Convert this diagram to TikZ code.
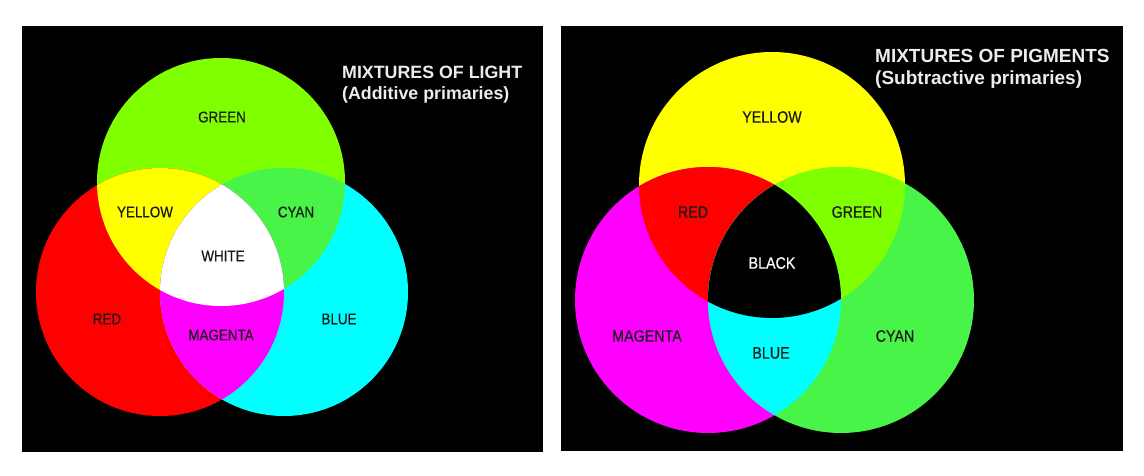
\documentclass[tikz,border=0pt]{standalone}
\usepackage{fontspec}
\setmainfont{Liberation Sans}
\newfontfamily\labfont[FakeStretch=0.865,FakeBold=0.4]{Liberation Sans}
\definecolor{cGreen}{RGB}{128,255,0}
\definecolor{cYellow}{RGB}{255,255,0}
\definecolor{cLime}{RGB}{72,244,72}
\definecolor{cRed}{RGB}{255,0,0}
\definecolor{cMagenta}{RGB}{255,0,255}
\definecolor{cCyan}{RGB}{0,255,255}
\definecolor{labcol}{RGB}{25,25,25}
\definecolor{titlecol}{RGB}{236,236,236}
\tikzset{
  labL/.style={inner sep=0pt, text=labcol, font=\labfont\fontsize{15.5}{18}\selectfont},
  labR/.style={inner sep=0pt, text=labcol, font=\labfont\fontsize{16.5}{19}\selectfont},
  titleL/.style={anchor=base west, inner sep=0pt, text=titlecol, font=\bfseries\fontsize{17.8}{21}\selectfont},
  titleR/.style={anchor=base west, inner sep=0pt, text=titlecol, font=\bfseries\fontsize{19}{22}\selectfont},
  panel/.style={fill=black}
}
\begin{document}
\begin{tikzpicture}[x=1pt,y=-1pt]
\useasboundingbox (0,0) rectangle (1144,476);
\fill[white] (0,0) rectangle (1144,476);
\fill[panel] (22,26) rectangle (543,452);
\fill[panel] (561,26) rectangle (1123,451);

% ---------- Left: mixtures of light ----------
\def\CG{(221,182) circle [radius=124pt]}
\def\CR{(160,292) circle [radius=124pt]}
\def\CB{(284,292) circle [radius=124pt]}
\fill[cGreen] \CG;
\fill[cRed] \CR;
\fill[cCyan] \CB;
\begin{scope}\clip \CR; \fill[cYellow] \CG; \end{scope}
\begin{scope}\clip \CG; \fill[cLime] \CB; \end{scope}
\begin{scope}\clip \CR; \fill[cMagenta] \CB; \end{scope}
\begin{scope}\clip \CR; \clip \CG; \fill[white] \CB; \end{scope}

\node[labL] (lgreen) at (222,117) {GREEN};
\node[labL] (lyellow) at (145,212) {YELLOW};
\node[labL] (lcyan) at (296,212) {CYAN};
\node[labL] (lwhite) at (223,256) {WHITE};
\node[labL] (lred) at (107,319) {RED};
\node[labL] (lmagenta) at (221,335) {MAGENTA};
\node[labL] (lblue) at (339,319) {BLUE};

\node[titleL] (ltitle1) at (342,79) {MIXTURES OF LIGHT};
\node[titleL] (ltitle2) at (342,100) {(Additive primaries)};

% ---------- Right: mixtures of pigments ----------
\def\PY{(772,185) circle [radius=133pt]}
\def\PM{(708,300) circle [radius=133pt]}
\def\PC{(841,300) circle [radius=133pt]}
\fill[cYellow] \PY;
\fill[cMagenta] \PM;
\fill[cLime] \PC;
\begin{scope}\clip \PY; \fill[cRed] \PM; \end{scope}
\begin{scope}\clip \PY; \fill[cGreen] \PC; \end{scope}
\begin{scope}\clip \PM; \fill[cCyan] \PC; \end{scope}
\begin{scope}\clip \PY; \clip \PM; \fill[black] \PC; \end{scope}

\node[labR] (ryellow) at (772,117) {YELLOW};
\node[labR] (rred) at (693,212) {RED};
\node[labR] (rgreen) at (857,212) {GREEN};
\node[labR, text=white] (rblack) at (772,263) {BLACK};
\node[labR] (rmagenta) at (647,336) {MAGENTA};
\node[labR] (rblue) at (771,353) {BLUE};
\node[labR] (rcyan) at (895,336) {CYAN};

\node[titleR] (rtitle1) at (875,63) {MIXTURES OF PIGMENTS};
\node[titleR] (rtitle2) at (875,85) {(Subtractive primaries)};
\end{tikzpicture}
\end{document}
